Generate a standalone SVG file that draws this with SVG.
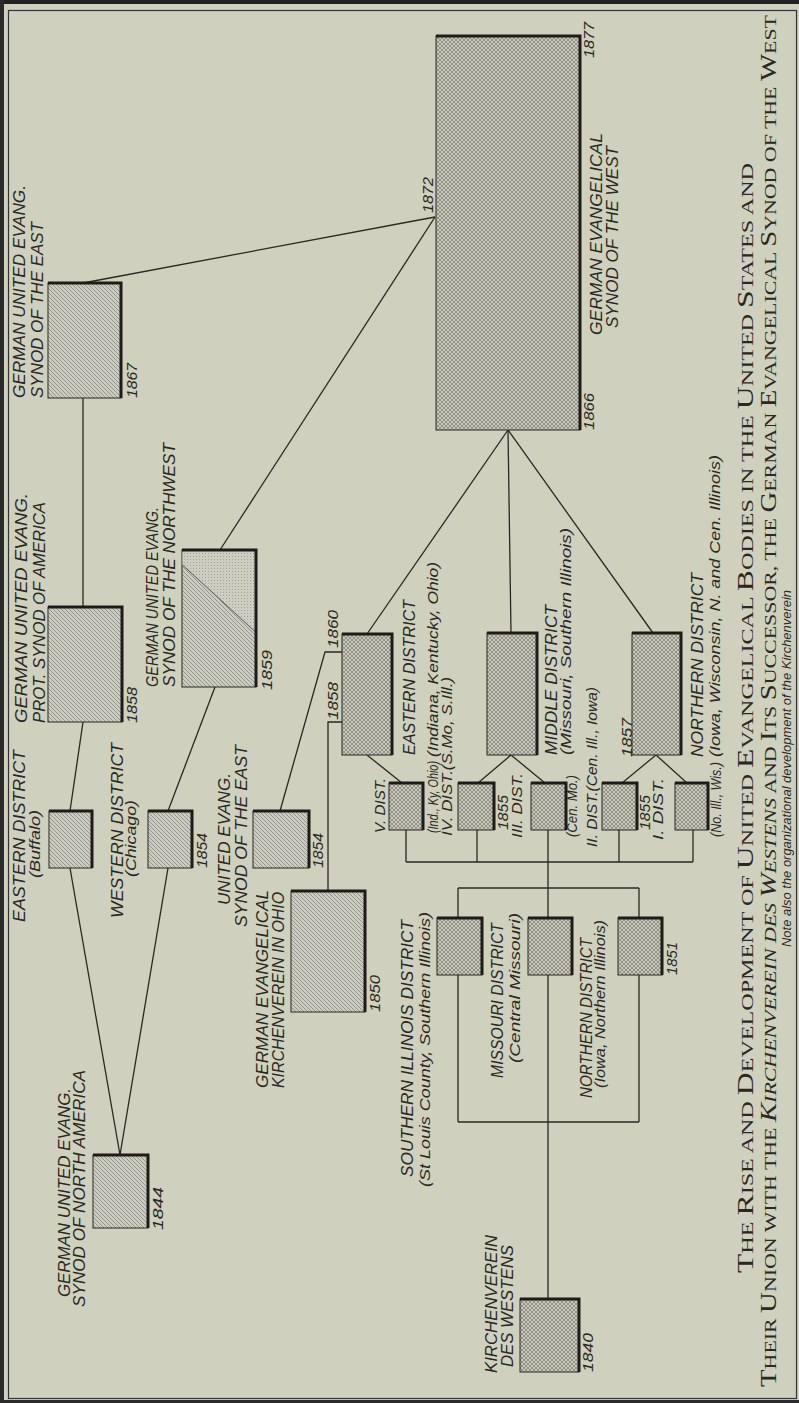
<svg xmlns="http://www.w3.org/2000/svg" width="799" height="1403" viewBox="0 0 799 1403">
<defs>
<pattern id="h" width="4" height="4" patternUnits="userSpaceOnUse">
<rect width="4" height="4" fill="#cbccbf"/>
<path d="M0,0L4,4M-1,3L1,5M3,-1L5,1" stroke="#65655d" stroke-width="0.55"/>
</pattern>
<pattern id="x" width="4" height="4" patternUnits="userSpaceOnUse">
<rect width="4" height="4" fill="#c7c8ba"/>
<path d="M0,0L4,4M-1,3L1,5M3,-1L5,1M4,0L0,4M-1,1L1,-1M3,5L5,3" stroke="#5c5c54" stroke-width="0.5"/>
</pattern>
<pattern id="d" width="3" height="3" patternUnits="userSpaceOnUse">
<rect width="3" height="3" fill="#cdcec1"/>
<circle cx="1.5" cy="1.5" r="0.5" fill="#94948a"/>
</pattern>
</defs>
<style>
.bx{stroke:#2b2723;stroke-width:1}
.sh{fill:none;stroke:#1e1b18;stroke-width:3}
.c line,.c polyline{stroke:#2b2723;stroke-width:1.3;fill:none}
text{font-family:'Liberation Sans',Arial,sans-serif;font-style:italic;fill:#2b2723}
.l{font-size:17px}
.s{font-size:14.5px}
.y{font-size:14.5px}
.t{font-family:'Liberation Serif','Times New Roman',serif;font-style:normal;font-size:17.5px}
.t .b{font-size:23px}
</style>
<rect width="799" height="1403" fill="#cfd1be"/>
<rect x="0" y="0" width="799" height="4" fill="#222"/>
<rect x="0" y="0" width="4" height="1403" fill="#2a2a2a"/>
<rect x="0" y="1400" width="799" height="3" fill="#2a2a2a"/>
<rect x="8.5" y="10.5" width="788" height="1388" fill="none" stroke="#333" stroke-width="1.2"/>

<g class="c" id="connectors">
<line x1="83" y1="283" x2="435" y2="217"/>
<line x1="435" y1="217" x2="220" y2="550"/>
<line x1="83" y1="398" x2="83" y2="607"/>
<line x1="83" y1="722" x2="70" y2="811"/>
<line x1="70" y1="868" x2="120" y2="1155"/>
<line x1="168" y1="868" x2="120" y2="1155"/>
<line x1="168" y1="811" x2="215" y2="687"/>
<polyline points="280,811 325,652 342,652"/>
<polyline points="328,891 328,722 342,722"/>
<line x1="367" y1="634" x2="508" y2="430"/>
<line x1="511" y1="633" x2="508" y2="430"/>
<line x1="653" y1="633" x2="508" y2="430"/>
<line x1="367" y1="755" x2="402" y2="783"/>
<line x1="511" y1="755" x2="478" y2="783"/>
<line x1="511" y1="755" x2="545" y2="783"/>
<line x1="656" y1="755" x2="622" y2="783"/>
<line x1="656" y1="755" x2="687" y2="783"/>
<line x1="406" y1="830" x2="406" y2="862"/>
<line x1="477" y1="830" x2="477" y2="862"/>
<line x1="619" y1="830" x2="619" y2="862"/>
<line x1="693" y1="830" x2="693" y2="862"/>
<line x1="406" y1="862" x2="693" y2="862"/>
<line x1="548" y1="830" x2="548" y2="1299"/>
<line x1="458" y1="888" x2="639" y2="888"/>
<line x1="458" y1="888" x2="458" y2="918"/>
<line x1="639" y1="888" x2="639" y2="918"/>
<line x1="458" y1="975" x2="458" y2="1122"/>
<line x1="639" y1="975" x2="639" y2="1122"/>
<line x1="458" y1="1122" x2="639" y2="1122"/>
</g>

<g id="synod-east-1867">
<rect class="bx" x="48" y="283" width="73" height="115" fill="url(#h)"/>
<path class="sh" d="M48,283H121V398"/>
<text class="l" transform="translate(25,398) rotate(-90)" textLength="213" lengthAdjust="spacingAndGlyphs">GERMAN UNITED EVANG.</text>
<text class="l" transform="translate(43,398) rotate(-90)" textLength="176" lengthAdjust="spacingAndGlyphs">SYNOD OF THE EAST</text>
<text class="y" transform="translate(137,398) rotate(-90)" textLength="35" lengthAdjust="spacingAndGlyphs">1867</text>
</g>

<g id="prot-synod-1858">
<rect class="bx" x="48" y="607" width="74" height="115" fill="url(#h)"/>
<path class="sh" d="M48,607H122V722"/>
<text class="l" transform="translate(27,723) rotate(-90)" textLength="230" lengthAdjust="spacingAndGlyphs">GERMAN UNITED EVANG.</text>
<text class="l" transform="translate(45,723) rotate(-90)" textLength="221" lengthAdjust="spacingAndGlyphs">PROT. SYNOD OF AMERICA</text>
<text class="y" transform="translate(137,723) rotate(-90)" textLength="36" lengthAdjust="spacingAndGlyphs">1858</text>
</g>

<g id="eastern-district-buffalo">
<rect class="bx" x="49" y="811" width="43" height="57" fill="url(#h)"/>
<path class="sh" d="M49,811H92V868"/>
<text class="l" transform="translate(25,922) rotate(-90)" textLength="172" lengthAdjust="spacingAndGlyphs">EASTERN DISTRICT</text>
<text class="s" transform="translate(40,878) rotate(-90)" textLength="68" lengthAdjust="spacingAndGlyphs">(Buffalo)</text>
</g>

<g id="western-district-chicago">
<rect class="bx" x="148" y="811" width="44" height="57" fill="url(#h)"/>
<path class="sh" d="M148,811H192V868"/>
<text class="l" transform="translate(123,918) rotate(-90)" textLength="175" lengthAdjust="spacingAndGlyphs">WESTERN DISTRICT</text>
<text class="s" transform="translate(136,877) rotate(-90)" textLength="77" lengthAdjust="spacingAndGlyphs">(Chicago)</text>
<text class="y" transform="translate(207,868) rotate(-90)" textLength="35" lengthAdjust="spacingAndGlyphs">1854</text>
</g>

<g id="synod-northwest-1859">
<rect class="bx" x="182" y="550" width="74" height="137" fill="url(#h)"/>
<polygon points="182.5,550.5 255.5,550.5 255.5,632 182.5,565" fill="url(#d)"/>
<line x1="182.5" y1="565" x2="255.5" y2="632" stroke="#3a3a35" stroke-width="0.8"/>
<path class="sh" d="M182,550H256V687"/>
<text class="l" transform="translate(158,687) rotate(-90)" textLength="180" lengthAdjust="spacingAndGlyphs">GERMAN UNITED EVANG.</text>
<text class="l" transform="translate(175,687) rotate(-90)" textLength="244" lengthAdjust="spacingAndGlyphs">SYNOD OF THE NORTHWEST</text>
<text class="y" transform="translate(272,690) rotate(-90)" textLength="40" lengthAdjust="spacingAndGlyphs">1859</text>
</g>

<g id="united-synod-east-1854">
<rect class="bx" x="253" y="811" width="56" height="57" fill="url(#h)"/>
<path class="sh" d="M253,811H309V868"/>
<text class="l" transform="translate(230,905) rotate(-90)" textLength="132" lengthAdjust="spacingAndGlyphs">UNITED EVANG.</text>
<text class="l" transform="translate(247,927) rotate(-90)" textLength="182" lengthAdjust="spacingAndGlyphs">SYNOD OF THE EAST</text>
<text class="y" transform="translate(323,868) rotate(-90)" textLength="35" lengthAdjust="spacingAndGlyphs">1854</text>
</g>

<g id="kirchenverein-ohio-1850">
<rect class="bx" x="291" y="891" width="74" height="121" fill="url(#h)"/>
<path class="sh" d="M291,891H365V1012"/>
<text class="l" transform="translate(268,1088) rotate(-90)" textLength="198" lengthAdjust="spacingAndGlyphs">GERMAN EVANGELICAL</text>
<text class="l" transform="translate(284,1088) rotate(-90)" textLength="196" lengthAdjust="spacingAndGlyphs">KIRCHENVEREIN IN OHIO</text>
<text class="y" transform="translate(380,1012) rotate(-90)" textLength="37" lengthAdjust="spacingAndGlyphs">1850</text>
</g>

<g id="synod-north-america-1844">
<rect class="bx" x="93" y="1155" width="55" height="73" fill="url(#h)"/>
<path class="sh" d="M93,1155H148V1228"/>
<text class="l" transform="translate(70,1297) rotate(-90)" textLength="209" lengthAdjust="spacingAndGlyphs">GERMAN UNITED EVANG.</text>
<text class="l" transform="translate(85,1307) rotate(-90)" textLength="237" lengthAdjust="spacingAndGlyphs">SYNOD OF NORTH AMERICA</text>
<text class="y" transform="translate(163,1230) rotate(-90)" textLength="43" lengthAdjust="spacingAndGlyphs">1844</text>
</g>

<g id="synod-west-1866">
<rect class="bx" x="436" y="36" width="144" height="394" fill="url(#x)"/>
<path class="sh" d="M436,36H580V430"/>
<text class="l" transform="translate(602,335) rotate(-90)" textLength="202" lengthAdjust="spacingAndGlyphs">GERMAN EVANGELICAL</text>
<text class="l" transform="translate(618,328) rotate(-90)" textLength="182" lengthAdjust="spacingAndGlyphs">SYNOD OF THE WEST</text>
<text class="y" transform="translate(594,58) rotate(-90)" textLength="36" lengthAdjust="spacingAndGlyphs">1877</text>
<text class="y" transform="translate(594,430) rotate(-90)" textLength="37" lengthAdjust="spacingAndGlyphs">1866</text>
<text class="y" transform="translate(433,213) rotate(-90)" textLength="36" lengthAdjust="spacingAndGlyphs">1872</text>
</g>

<g id="eastern-district-1860">
<rect class="bx" x="342" y="634" width="50" height="121" fill="url(#x)"/>
<path class="sh" d="M342,634H392V755"/>
<text class="y" transform="translate(338,648) rotate(-90)" textLength="38" lengthAdjust="spacingAndGlyphs">1860</text>
<text class="y" transform="translate(338,720) rotate(-90)" textLength="38" lengthAdjust="spacingAndGlyphs">1858</text>
<text class="l" transform="translate(415,755) rotate(-90)" textLength="155" lengthAdjust="spacingAndGlyphs">EASTERN DISTRICT</text>
<text class="s" transform="translate(438,757) rotate(-90)" textLength="195" lengthAdjust="spacingAndGlyphs">(Indiana, Kentucky, Ohio)</text>
</g>

<g id="middle-district">
<rect class="bx" x="487" y="633" width="50" height="122" fill="url(#x)"/>
<path class="sh" d="M487,633H537V755"/>
<text class="l" transform="translate(557,755) rotate(-90)" textLength="150" lengthAdjust="spacingAndGlyphs">MIDDLE DISTRICT</text>
<text class="s" transform="translate(571,755) rotate(-90)" textLength="227" lengthAdjust="spacingAndGlyphs">(Missouri, Southern Illinois)</text>
</g>

<g id="northern-district-1857">
<rect class="bx" x="632" y="633" width="49" height="122" fill="url(#x)"/>
<path class="sh" d="M632,633H681V755"/>
<text class="y" transform="translate(632,757) rotate(-90)" textLength="39" lengthAdjust="spacingAndGlyphs">1857</text>
<text class="l" transform="translate(703,757) rotate(-90)" textLength="184" lengthAdjust="spacingAndGlyphs">NORTHERN DISTRICT</text>
<text class="s" transform="translate(720,757) rotate(-90)" textLength="302" lengthAdjust="spacingAndGlyphs">(Iowa, Wisconsin, N. and Cen. Illinois)</text>
</g>

<g id="dist-v">
<rect class="bx" x="389" y="783" width="34" height="47" fill="url(#x)"/>
<path class="sh" d="M389,783H423V830"/>
<text class="s" transform="translate(385,833) rotate(-90)" textLength="55" lengthAdjust="spacingAndGlyphs">V. DIST.</text>
<text class="s" transform="translate(438,833) rotate(-90)" textLength="72" lengthAdjust="spacingAndGlyphs">(Ind., Ky, Ohio)</text>
</g>

<g id="dist-iv">
<rect class="bx" x="458" y="783" width="36" height="47" fill="url(#x)"/>
<path class="sh" d="M458,783H494V830"/>
<text class="s" transform="translate(452,836) rotate(-90)" textLength="159" lengthAdjust="spacingAndGlyphs">IV. DIST.(S.Mo, S.Ill.)</text>
<text class="y" transform="translate(508,830) rotate(-90)" textLength="35" lengthAdjust="spacingAndGlyphs">1855</text>
</g>

<g id="dist-iii">
<rect class="bx" x="531" y="783" width="35" height="47" fill="url(#x)"/>
<path class="sh" d="M531,783H566V830"/>
<text class="s" transform="translate(522,838) rotate(-90)" textLength="65" lengthAdjust="spacingAndGlyphs">III. DIST.</text>
<text class="s" transform="translate(577,837) rotate(-90)" textLength="62" lengthAdjust="spacingAndGlyphs">(Cen. Mo.)</text>
</g>

<g id="dist-ii">
<rect class="bx" x="602" y="783" width="35" height="47" fill="url(#x)"/>
<path class="sh" d="M602,783H637V830"/>
<text class="s" transform="translate(597,847) rotate(-90)" textLength="160" lengthAdjust="spacingAndGlyphs">II. DIST.(Cen. Ill., Iowa)</text>
<text class="y" transform="translate(650,830) rotate(-90)" textLength="35" lengthAdjust="spacingAndGlyphs">1855</text>
</g>

<g id="dist-i">
<rect class="bx" x="675" y="783" width="33" height="47" fill="url(#x)"/>
<path class="sh" d="M675,783H708V830"/>
<text class="s" transform="translate(663,840) rotate(-90)" textLength="62" lengthAdjust="spacingAndGlyphs">I. DIST.</text>
<text class="s" transform="translate(721,837) rotate(-90)" textLength="75" lengthAdjust="spacingAndGlyphs">(No. Ill., Wis.)</text>
</g>

<g id="southern-illinois-district">
<rect class="bx" x="437" y="918" width="45" height="57" fill="url(#x)"/>
<path class="sh" d="M437,918H482V975"/>
<text class="l" transform="translate(413,1177) rotate(-90)" textLength="257" lengthAdjust="spacingAndGlyphs">SOUTHERN ILLINOIS DISTRICT</text>
<text class="s" transform="translate(430,1187) rotate(-90)" textLength="275" lengthAdjust="spacingAndGlyphs">(St Louis County, Southern Illinois)</text>
</g>

<g id="missouri-district">
<rect class="bx" x="528" y="918" width="44" height="57" fill="url(#x)"/>
<path class="sh" d="M528,918H572V975"/>
<text class="l" transform="translate(503,1078) rotate(-90)" textLength="155" lengthAdjust="spacingAndGlyphs">MISSOURI DISTRICT</text>
<text class="s" transform="translate(520,1063) rotate(-90)" textLength="150" lengthAdjust="spacingAndGlyphs">(Central Missouri)</text>
</g>

<g id="northern-district-1851">
<rect class="bx" x="618" y="918" width="44" height="57" fill="url(#x)"/>
<path class="sh" d="M618,918H662V975"/>
<text class="y" transform="translate(677,975) rotate(-90)" textLength="33" lengthAdjust="spacingAndGlyphs">1851</text>
<text class="l" transform="translate(592,1098) rotate(-90)" textLength="160" lengthAdjust="spacingAndGlyphs">NORTHERN DISTRICT</text>
<text class="s" transform="translate(605,1088) rotate(-90)" textLength="168" lengthAdjust="spacingAndGlyphs">(Iowa, Northern Illinois)</text>
</g>

<g id="kirchenverein-des-westens-1840">
<rect class="bx" x="520" y="1299" width="59" height="73" fill="url(#x)"/>
<path class="sh" d="M520,1299H579V1372"/>
<text class="l" transform="translate(497,1373) rotate(-90)" textLength="138" lengthAdjust="spacingAndGlyphs">KIRCHENVEREIN</text>
<text class="l" transform="translate(513,1367) rotate(-90)" textLength="122" lengthAdjust="spacingAndGlyphs">DES WESTENS</text>
<text class="y" transform="translate(593,1372) rotate(-90)" textLength="39" lengthAdjust="spacingAndGlyphs">1840</text>
</g>

<g id="title">
<text class="t" transform="translate(753,1273) rotate(-90)" textLength="1110" lengthAdjust="spacingAndGlyphs"><tspan class="b">T</tspan>HE <tspan class="b">R</tspan>ISE AND <tspan class="b">D</tspan>EVELOPMENT OF <tspan class="b">U</tspan>NITED <tspan class="b">E</tspan>VANGELICAL <tspan class="b">B</tspan>ODIES IN THE <tspan class="b">U</tspan>NITED <tspan class="b">S</tspan>TATES AND</text>
<text class="t" transform="translate(776,1387) rotate(-90)" textLength="1372" lengthAdjust="spacingAndGlyphs"><tspan class="b">T</tspan>HEIR <tspan class="b">U</tspan>NION WITH THE <tspan font-style="italic"><tspan class="b">K</tspan>IRCHENVEREIN DES <tspan class="b">W</tspan>ESTENS</tspan> AND <tspan class="b">I</tspan>TS <tspan class="b">S</tspan>UCCESSOR, THE <tspan class="b">G</tspan>ERMAN <tspan class="b">E</tspan>VANGELICAL <tspan class="b">S</tspan>YNOD OF THE <tspan class="b">W</tspan>EST</text>
<text style="font-size:13px" transform="translate(791,947) rotate(-90)" textLength="357" lengthAdjust="spacingAndGlyphs">Note also the organizational development of the Kirchenverein</text>
</g>
</svg>
